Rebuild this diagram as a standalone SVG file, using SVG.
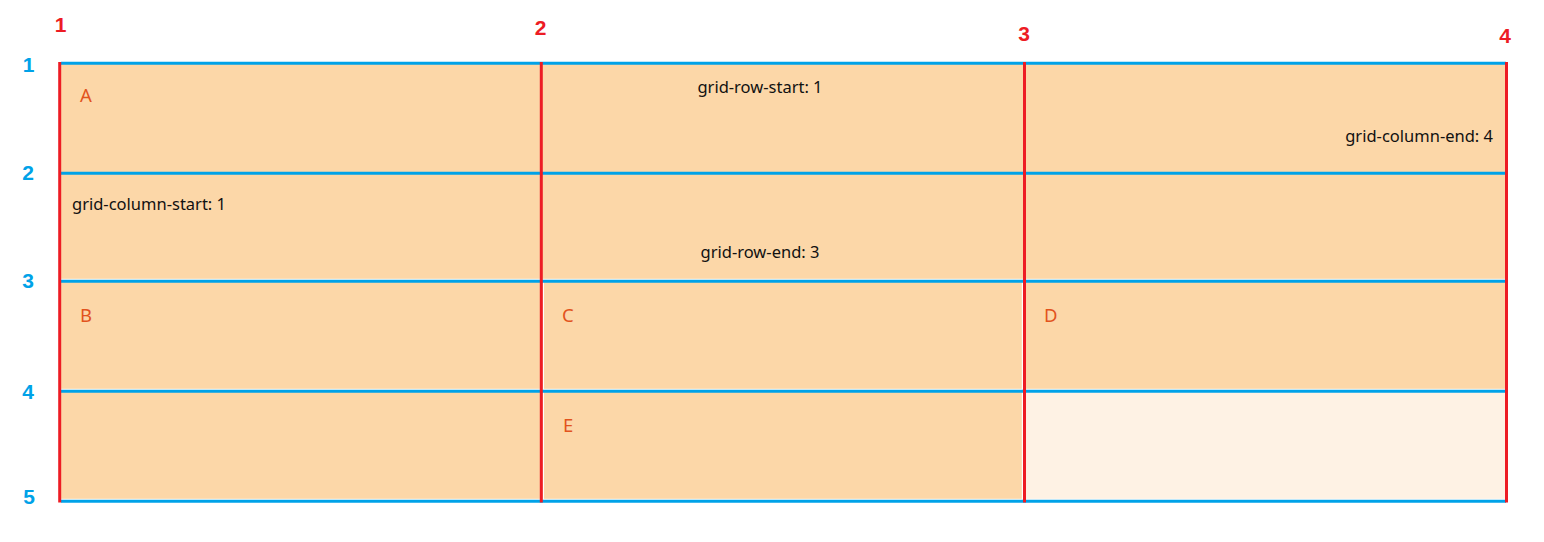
<svg xmlns="http://www.w3.org/2000/svg" width="1544" height="542" viewBox="0 0 1544 542">
  <style>
    .cell { fill: #FCD7A8; }
    .empty { fill: #FEF2E4; }
    .gap { fill: #FFFFFF; }
    .row { stroke: #00A2E8; stroke-width: 3; fill: none; }
    .col { stroke: #ED1C24; stroke-width: 3; fill: none; }
    .item { font-family: "Noto Sans", "Liberation Sans", sans-serif; font-size: 18.5px; fill: #E2531D; }
    .prop { font-family: "Noto Sans", "Liberation Sans", sans-serif; font-size: 16.5px; fill: #111111; }
    .cnum { font-family: "Liberation Sans", "DejaVu Sans", sans-serif; font-size: 21px; font-weight: bold; fill: #ED1C24; text-anchor: middle; }
    .rnum { font-family: "Liberation Sans", "DejaVu Sans", sans-serif; font-size: 21px; font-weight: bold; fill: #00A2E8; text-anchor: middle; }
  </style>

  <rect width="1544" height="542" fill="#FFFFFF"/>

  <g id="item-A">
    <rect class="cell" x="61" y="63" width="1445" height="218"/>
    <text class="item" x="80" y="102">A</text>
    <text class="prop" x="760" y="93" text-anchor="middle">grid-row-start: 1</text>
    <text class="prop" x="1493" y="142" text-anchor="end">grid-column-end: 4</text>
    <text class="prop" x="72" y="210">grid-column-start: 1</text>
    <text class="prop" x="760" y="258" text-anchor="middle">grid-row-end: 3</text>
  </g>

  <g id="item-B">
    <rect class="cell" x="61" y="281" width="481" height="220"/>
    <text class="item" x="80" y="322">B</text>
  </g>

  <g id="item-C">
    <rect class="cell" x="542" y="281" width="483" height="110"/>
    <text class="item" x="562" y="322">C</text>
  </g>

  <g id="item-D">
    <rect class="cell" x="1025" y="281" width="481" height="110"/>
    <text class="item" x="1044" y="322">D</text>
  </g>

  <g id="item-E">
    <rect class="cell" x="542" y="391" width="483" height="110"/>
    <text class="item" x="563" y="432">E</text>
  </g>

  <g id="empty-cell">
    <rect class="empty" x="1025" y="391" width="481" height="110"/>
  </g>

  <g id="gaps">
    <rect class="gap" x="61" y="278.8" width="1445" height="1.2"/>
    <rect class="gap" x="61" y="388.8" width="1445" height="1.2"/>
    <rect class="gap" x="61" y="498.8" width="1445" height="1.2"/>
    <rect class="gap" x="542.8" y="281" width="1.2" height="220"/>
    <rect class="gap" x="1021.8" y="281" width="1.2" height="220"/>
  </g>

  <g id="grid-lines">
    <line class="row" x1="61" y1="63.3" x2="1506" y2="63.3"/>
    <line class="row" x1="61" y1="173.3" x2="1506" y2="173.3"/>
    <line class="row" x1="61" y1="281.3" x2="1506" y2="281.3"/>
    <line class="row" x1="61" y1="391.3" x2="1506" y2="391.3"/>
    <line class="row" x1="61" y1="501.3" x2="1506" y2="501.3"/>
    <line class="col" x1="59.7" y1="62" x2="59.7" y2="502.5"/>
    <line class="col" x1="541.3" y1="62" x2="541.3" y2="502.5"/>
    <line class="col" x1="1024.5" y1="62" x2="1024.5" y2="502.5"/>
    <line class="col" x1="1506.5" y1="62" x2="1506.5" y2="502.5"/>
  </g>

  <g id="column-numbers">
    <text class="cnum" x="60.5" y="32">1</text>
    <text class="cnum" x="540.5" y="35">2</text>
    <text class="cnum" x="1024" y="41">3</text>
    <text class="cnum" x="1505" y="43">4</text>
  </g>

  <g id="row-numbers">
    <text class="rnum" x="28.5" y="72">1</text>
    <text class="rnum" x="28" y="180">2</text>
    <text class="rnum" x="28" y="288">3</text>
    <text class="rnum" x="28" y="399">4</text>
    <text class="rnum" x="29" y="504">5</text>
  </g>
</svg>
